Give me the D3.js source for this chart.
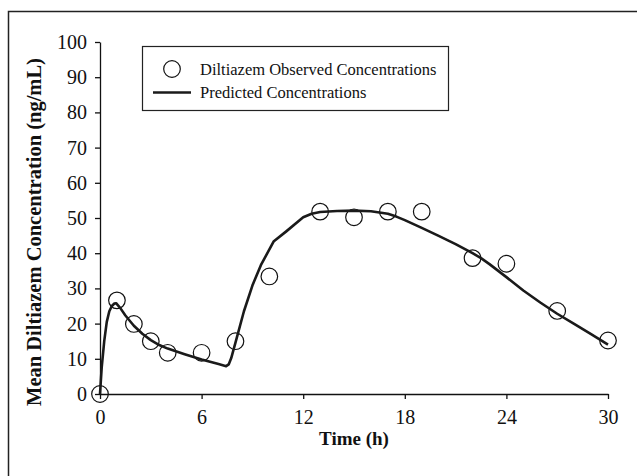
<!DOCTYPE html>
<html>
<head>
<meta charset="utf-8">
<script src="https://cdn.jsdelivr.net/npm/d3@7"></script>
<style>
  html, body { margin: 0; padding: 0; background: #fff; }
  svg { display: block; }
  text { font-family: "Liberation Serif", "Times New Roman", serif; fill: #111; }
</style>
</head>
<body>
<svg id="chart" width="637" height="476"></svg>
<script>
// Observed mean diltiazem concentrations (ng/mL) at sampling times (h)
const obsTimes = [0, 1, 2, 3, 4, 6, 8, 10, 13, 15, 17, 19, 22, 24, 27, 30];
const obsConc  = [0, 26.6, 19.9, 15.0, 11.7, 11.7, 15.0, 33.4, 51.8, 50.2, 51.8, 51.8, 38.6, 37.0, 23.6, 15.2];

// Model-predicted concentration profile
const predTimes = [0, 0.1, 0.25, 0.4, 0.55, 0.7, 0.85, 0.95, 1.2, 1.5, 2, 2.5, 3, 3.5, 4, 5, 6, 7, 7.45, 7.6, 7.75, 8, 8.5, 9, 9.5, 10.25, 11, 12, 12.5, 13, 14, 15, 16, 17, 17.5, 18, 19, 20, 21, 22, 22.5, 23, 24, 25, 26, 27, 28, 29, 30];
const predConc  = [0, 7.5, 15.0, 20.5, 23.5, 25.0, 25.7, 25.8, 24.4, 22.3, 19.4, 17.1, 15.3, 13.9, 12.9, 11.3, 9.8, 8.5, 7.9, 8.4, 10.2, 14.6, 23.5, 30.8, 36.6, 43.3, 46.2, 50.2, 51.2, 51.7, 52.0, 52.1, 51.9, 51.2, 50.4, 49.4, 47.2, 44.9, 42.6, 40.0, 38.6, 36.9, 33.2, 29.4, 26.0, 22.8, 19.9, 17.0, 14.0];

const xTicks = [0, 6, 12, 18, 24, 30];
const yTicks = [0, 10, 20, 30, 40, 50, 60, 70, 80, 90, 100];

const legendLabels = ["Diltiazem Observed Concentrations", "Predicted Concentrations"];
const xTitle = "Time (h)";
const yTitle = "Mean Diltiazem Concentration (ng/mL)";

const svg = d3.select("#chart");

// outer frame
svg.append("rect")
  .attr("x", 8.5).attr("y", 11.5)
  .attr("width", 660).attr("height", 500)
  .attr("fill", "none").attr("stroke", "#222").attr("stroke-width", 1.5);

const x = d3.scaleLinear().domain([0, 30]).range([100, 608]);
const y = d3.scaleLinear().domain([0, 100]).range([394, 42]);

// axes
const xAxis = d3.axisBottom(x).tickValues(xTicks).tickSize(5).tickPadding(11).tickSizeOuter(0);
const yAxis = d3.axisLeft(y).tickValues(yTicks).tickSize(5).tickPadding(8).tickSizeOuter(0);

const gx = svg.append("g").attr("transform", "translate(0,394)").call(xAxis);
const gy = svg.append("g").attr("transform", "translate(100,0)").call(yAxis);

[gx, gy].forEach(g => {
  g.attr("font-family", null).attr("font-size", null);
  g.select(".domain").attr("stroke", "#111").attr("stroke-width", 1.3);
  g.selectAll(".tick line").attr("stroke", "#111").attr("stroke-width", 1.3);
  g.selectAll(".tick text")
    .attr("fill", "#111")
    .style("font-family", "'Liberation Serif', serif")
    .style("font-size", "20px");
});

// axis titles
svg.append("text")
  .attr("x", 354).attr("y", 445)
  .attr("text-anchor", "middle")
  .style("font-size", "19px").style("font-weight", "bold")
  .text(xTitle);

svg.append("text")
  .attr("transform", "translate(41,232) rotate(-90)")
  .attr("text-anchor", "middle")
  .style("font-size", "20.5px").style("font-weight", "bold")
  .text(yTitle);

// predicted curve
const line = d3.line()
  .x((d, i) => x(predTimes[i]))
  .y((d, i) => y(predConc[i]))
  .curve(d3.curveLinear);

// observed points
svg.append("g").selectAll("circle")
  .data(obsTimes)
  .join("circle")
  .attr("cx", (d) => x(d))
  .attr("cy", (d, i) => y(obsConc[i]))
  .attr("r", 8.3)
  .attr("fill", "none")
  .attr("stroke", "#111")
  .attr("stroke-width", 1.2);

svg.append("path")
  .datum(predConc)
  .attr("d", line)
  .attr("fill", "none")
  .attr("stroke", "#1a1a1a")
  .attr("stroke-width", 2.6)
  .attr("stroke-linejoin", "round");

// legend
const lg = svg.append("g");
lg.append("rect")
  .attr("x", 142.5).attr("y", 46.5)
  .attr("width", 306).attr("height", 64)
  .attr("fill", "#fff").attr("stroke", "#222").attr("stroke-width", 1.2);
lg.append("circle")
  .attr("cx", 172).attr("cy", 69).attr("r", 8.3)
  .attr("fill", "none").attr("stroke", "#111").attr("stroke-width", 1.2);
lg.append("line")
  .attr("x1", 153).attr("x2", 191).attr("y1", 92.5).attr("y2", 92.5)
  .attr("stroke", "#1a1a1a").attr("stroke-width", 2.6);
lg.selectAll("text.lbl")
  .data(legendLabels)
  .join("text")
  .attr("class", "lbl")
  .attr("x", 200)
  .attr("y", (d, i) => 74.5 + i * 23.5)
  .style("font-size", "16.5px")
  .text(d => d);
</script>
</body>
</html>
